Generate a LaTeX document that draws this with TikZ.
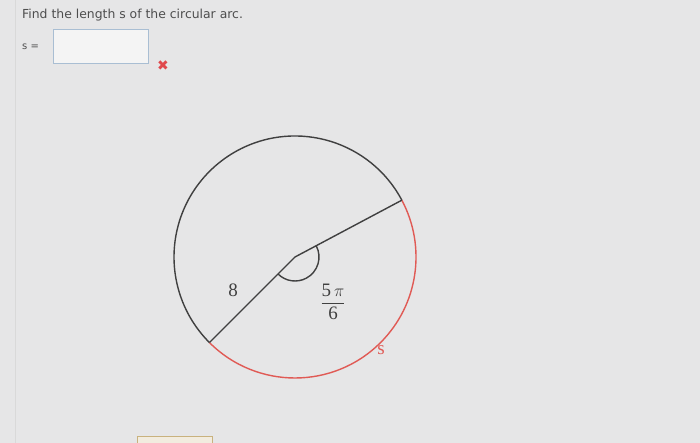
\documentclass[tikz,border=0pt]{standalone}
\usepackage{fontspec}
\usepackage{amsmath}
\setmainfont{Liberation Serif}
\newfontfamily\uifont{DejaVu Sans}
\usetikzlibrary{positioning, calc}

\definecolor{pagebg}{HTML}{E6E6E7}
\definecolor{uitext}{HTML}{4E4E4E}
\definecolor{boxline}{HTML}{A9BED3}
\definecolor{arcred}{HTML}{E05A55}
\definecolor{wrongred}{HTML}{E0484C}
\definecolor{figline}{HTML}{404040}
\definecolor{helpbox}{HTML}{C9B27E}

\tikzset{
    uitxt/.style={text=uitext, font=\uifont\fontsize{12.4}{14}\selectfont, inner sep=0pt},
    figlbl/.style={text=figline, font=\fontsize{19}{22}\selectfont, inner sep=0pt},
    figpen/.style={draw=figline, line width=1.4pt},
}

\begin{document}
\begin{tikzpicture}[x=1pt, y=1pt]
    \fill[pagebg] (0,0) rectangle (700,443);
    \useasboundingbox (0,0) rectangle (700,443);
    \draw[gray!30, line width=1pt] (15,0) -- (15,443);

    % question and answer field
    \node[uitxt, anchor=west] (question) at (22,428) {Find the length s of the circular arc.};
    \node[uitxt, anchor=west, font=\uifont\fontsize{10}{12}\selectfont] (sequals) at (22,396) {s =};
    \node[draw=boxline, line width=1pt, fill=white!55!pagebg, minimum width=95, minimum height=34, anchor=north west] (answer) at (53,414) {};
    \node[text=wrongred, font=\uifont\fontsize{14}{16}\selectfont, inner sep=0pt] (wrong) at (163,377) {✖};

    % circle with the central angle
    \coordinate (O) at (295,186);
    \coordinate (A) at ($(O)+(28:121)$);
    \coordinate (B) at ($(O)+(225:121)$);

    \draw[figpen] (A) arc (28:225:121);
    \draw[draw=arcred, line width=1.4pt] (B) arc (225:388:121);
    \draw[figpen] (A) -- (O) -- (B);
    \draw[figpen] ($(O)+(28:24)$) arc (28:-135:24);

    \node[figlbl] (radius) at (233,153) {8};
    \node[figlbl] (angle) at (333,141) {$\dfrac{\mbox{5}\,\pi}{\mbox{6}}$};
    \node[figlbl, text=arcred] (arclen) at (381,93) {s};

    % help button, cut off at the bottom
    \draw[helpbox, fill=helpbox!25!white, line width=1pt] (137,-4) rectangle (212,6);
\end{tikzpicture}
\end{document}
